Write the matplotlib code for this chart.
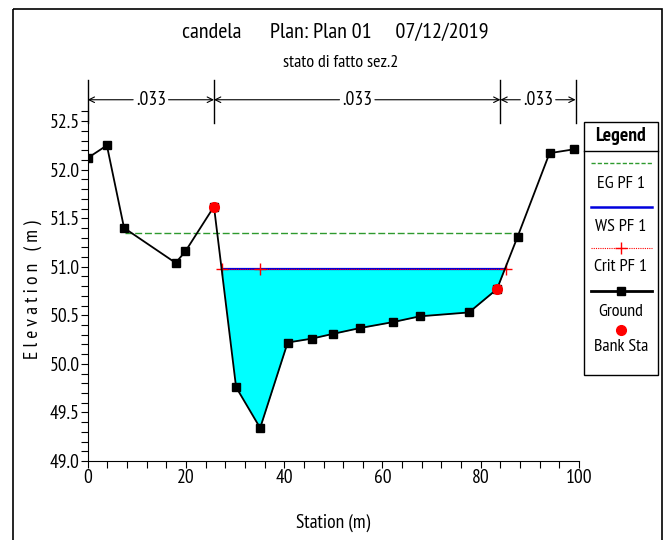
import matplotlib
matplotlib.use('Agg')
import matplotlib.pyplot as plt
import numpy as np
from matplotlib.patches import Rectangle

plt.rcParams['font.family'] = ['PT Sans Narrow', 'Roboto Condensed', 'DejaVu Sans']

# ground profile (station, elevation)
station = [0.0, 3.9, 7.4, 17.9, 19.9, 25.7, 30.2, 35.1, 40.7, 45.6, 50.0, 55.5,
           62.1, 67.6, 77.6, 83.3, 87.5, 94.0, 99.0]
ground = [52.12, 52.25, 51.40, 51.04, 51.16, 51.62, 49.76, 49.34, 50.22, 50.26,
          50.31, 50.37, 50.43, 50.49, 50.53, 50.77, 51.31, 52.17, 52.21]

bank_sta = [25.7, 83.3]
bank_elev = [51.62, 50.77]

ws_elev = 50.98
ws_x = [27.3, 85.2]
eg_elev = 51.35
eg_x = [7.6, 87.4]
crit_x = [27.3, 35.1, 85.2]

# manning's n segments
n_bounds = [0.0, 25.7, 84.0, 99.3]
n_labels = ['.033', '.033', '.033']

fig = plt.figure(figsize=(6.67, 5.4), dpi=100)
ax = fig.add_axes([0.1315, 0.1463, 0.7366, 0.6474])

# water fill
xs = np.array(station)
gs = np.array(ground)
inside = (xs >= ws_x[0] - 3) & (xs <= ws_x[1] + 3)
ax.fill_between(xs[inside], gs[inside], ws_elev, where=gs[inside] <= ws_elev,
                interpolate=True, color='#00ffff', lw=0, zorder=1)

ax.plot(eg_x, [eg_elev, eg_elev], color='#2e9a2e', lw=1.0, ls=(0, (5, 2)), zorder=2)
ax.plot(ws_x, [ws_elev, ws_elev], color='#0000dd', lw=1.6, zorder=3)
ax.plot(ws_x, [ws_elev, ws_elev], color='red', lw=0.8, ls=(0, (1, 1)), zorder=4)
ax.plot(crit_x, [ws_elev] * len(crit_x), ls='none', marker='+', color='red',
        ms=8, mew=1.0, zorder=5)
ax.plot(station, ground, color='black', lw=1.3, marker='s', ms=5.5, zorder=6)
ax.plot(bank_sta, bank_elev, ls='none', marker='o', color='red', ms=7, zorder=7)

ax.set_xlim(0, 100)
ax.set_ylim(49.0, 52.6)
ax.set_xticks(np.arange(0, 101, 20))
ax.set_xticks(np.arange(0, 101, 4), minor=True)
ax.set_yticks(np.arange(49.0, 52.51, 0.5))
ax.set_yticks(np.arange(49.0, 52.61, 0.1), minor=True)
ax.set_yticklabels([f'{v:.1f}' for v in np.arange(49.0, 52.51, 0.5)])
ax.tick_params(which='both', direction='out', length=5, width=0.8, labelsize=14, pad=1)
ax.spines['top'].set_visible(False)
ax.spines['right'].set_visible(False)
ax.set_xlabel('Station (m)', fontsize=14)
ax.set_ylabel('E l e v a t i o n   ( m )', fontsize=14)
ax.xaxis.set_label_coords(0.5, -0.152)
ax.yaxis.set_label_coords(-0.094, 0.49)

# manning's n dimension lines above the plot
y_arrow = 52.72
for xb in n_bounds:
    ax.plot([xb, xb], [52.48, 52.92], color='black', lw=1.0, clip_on=False)
for i, lab in enumerate(n_labels):
    x0, x1 = n_bounds[i], n_bounds[i + 1]
    xm = (x0 + x1) / 2
    gap = 3.6
    ax.text(xm, y_arrow, lab, ha='center', va='center', fontsize=14)
    for xe, xt in ((x0, xm - gap), (x1, xm + gap)):
        ax.annotate('', xy=(xe, y_arrow), xytext=(xt, y_arrow), annotation_clip=False,
                    arrowprops=dict(arrowstyle='->', lw=0.8, color='black',
                                    shrinkA=0, shrinkB=0, mutation_scale=10))

# titles
fig.text(0.503, 0.940, 'candela      Plan: Plan 01     07/12/2019', ha='center',
         va='center', fontsize=16)
fig.text(0.511, 0.883, 'stato di fatto sez.2', ha='center', va='center', fontsize=13)

# legend box drawn by hand, in pixel space
W, H = 667, 540
lg = fig.add_axes([0, 0, 1, 1], facecolor='none')
lg.set_xlim(0, W)
lg.set_ylim(H, 0)
lg.axis('off')
lg.add_patch(Rectangle((584, 122), 74, 253, fill=False, lw=1.0, ec='black'))
lg.plot([584, 658], [151, 151], color='black', lw=1.0)
lg.text(621, 136, 'Legend', ha='center', va='center', fontsize=14, fontweight='bold')
lx = [591, 652]
lg.plot(lx, [163, 163], color='#2e9a2e', lw=1.0, ls=(0, (3, 1.5)))
lg.text(621, 184, 'EG PF 1', ha='center', va='center', fontsize=13)
lg.plot(lx, [207, 207], color='#0000dd', lw=1.8)
lg.text(621, 227, 'WS PF 1', ha='center', va='center', fontsize=13)
lg.plot(lx, [248, 248], color='red', lw=0.8, ls=(0, (1, 1)))
lg.plot([621], [248], marker='+', color='red', ms=8, mew=1.0)
lg.text(621, 267, 'Crit PF 1', ha='center', va='center', fontsize=13)
lg.plot(lx, [291, 291], color='black', lw=2.0)
lg.plot([621], [291], marker='s', color='black', ms=6)
lg.text(621, 312, 'Ground', ha='center', va='center', fontsize=13)
lg.plot([621], [330], marker='o', color='red', ms=7)
lg.text(621, 347, 'Bank Sta', ha='center', va='center', fontsize=13)

# outer frame
lg.add_patch(Rectangle((12.5, 8.5), 649, 540, fill=False, lw=1.2, ec='black',
                       clip_on=False))

fig.savefig('out.png', dpi=100)
